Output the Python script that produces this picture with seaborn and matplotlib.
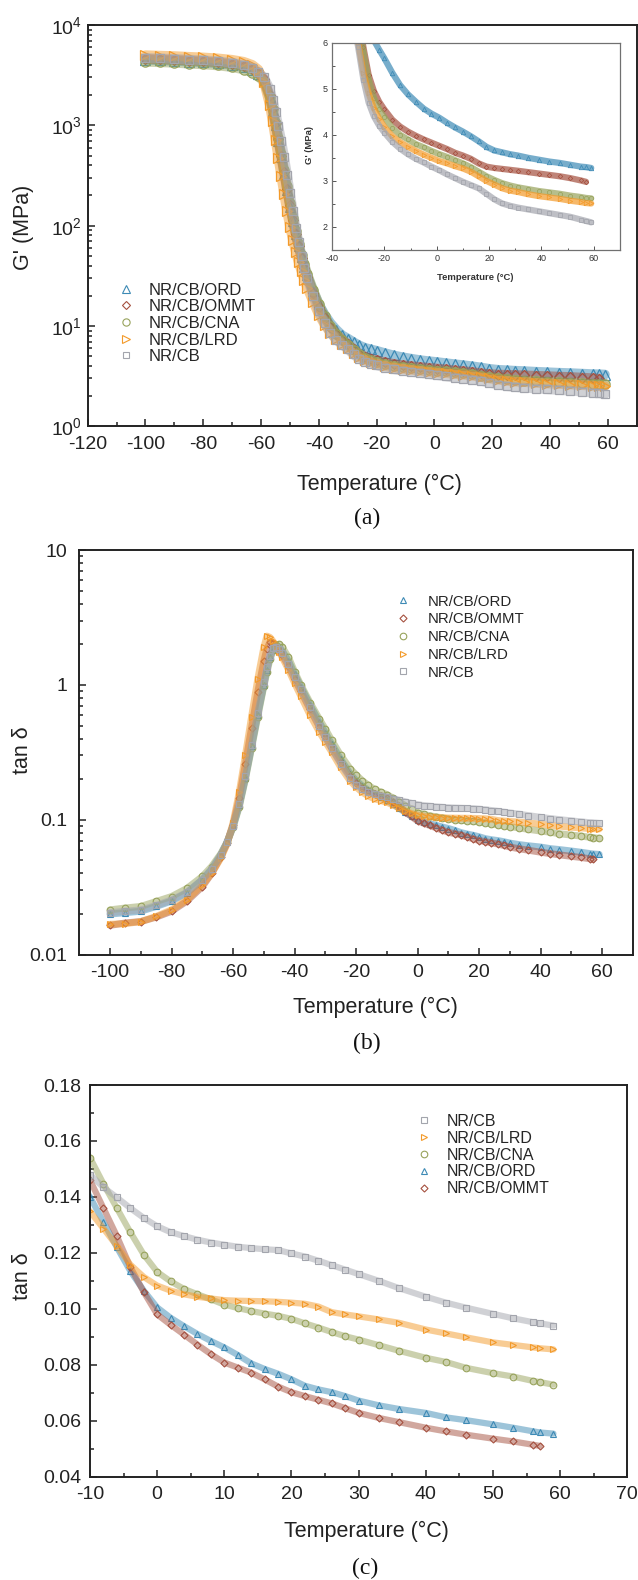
import numpy as np
import pandas as pd
import matplotlib
matplotlib.use("Agg")
import matplotlib.pyplot as plt
import seaborn as sns
from matplotlib.lines import Line2D
from matplotlib.ticker import FixedLocator, FuncFormatter, LogLocator, NullFormatter

# ---------------- storage modulus G' (MPa) vs temperature (°C) ----------------
temp_g = [-100, -95, -90, -85, -80, -75, -70, -66, -63, -61, -59, -57, -56, -55, -54,
          -53, -52, -51, -50, -49, -48, -47, -46, -45, -44, -42, -40, -38, -36, -34,
          -32, -30, -28, -26, -24, -22, -20, -17, -14, -11, -8, -5, -2, 1, 4, 7, 10,
          13, 16, 19, 22, 25, 28, 31, 35, 39, 43, 47, 51, 55, 57, 59]

g_ord = [4500, 4450, 4400, 4320, 4250, 4150, 4000, 3800, 3550, 3250, 2850, 1900, 1400,
         1000, 700, 480, 330, 225, 155, 112, 82, 62, 49, 39, 32, 22.5, 16.5, 13.0, 10.7,
         9.2, 8.1, 7.5, 6.9, 6.4, 6.05, 5.85, 5.66, 5.35, 5.08, 4.88, 4.72, 4.57, 4.46,
         4.37, 4.26, 4.16, 4.07, 3.97, 3.86, 3.74, 3.66, 3.62, 3.58, 3.55, 3.50, 3.46,
         3.42, 3.39, 3.35, 3.31, 3.30, 3.28]
g_ommt = [4600, 4550, 4500, 4420, 4350, 4250, 4100, 3900, 3650, 3350, 2900, 2000, 1500,
          1050, 730, 500, 340, 230, 160, 115, 82, 62, 48, 38, 31, 21.5, 15.5, 12.0, 9.8,
          8.3, 7.3, 6.6, 5.9, 5.3, 4.95, 4.72, 4.55, 4.33, 4.18, 4.07, 3.98, 3.90, 3.83,
          3.76, 3.69, 3.61, 3.55, 3.48, 3.38, 3.31, 3.28, 3.26, 3.24, 3.22, 3.19, 3.16,
          3.13, 3.10, 3.06, 3.01, 2.98, np.nan]
g_cna = [4300, 4250, 4200, 4120, 4050, 3950, 3800, 3600, 3350, 3100, 2700, 1900, 1450,
         1050, 740, 520, 360, 250, 170, 120, 88, 66, 51, 41, 33, 23, 16.5, 12.5, 10.0,
         8.4, 7.3, 6.5, 5.8, 5.2, 4.8, 4.55, 4.38, 4.15, 4.00, 3.90, 3.80, 3.73, 3.65,
         3.58, 3.52, 3.45, 3.38, 3.30, 3.20, 3.10, 3.02, 2.95, 2.90, 2.86, 2.82, 2.78,
         2.75, 2.72, 2.68, 2.65, 2.63, 2.62]
g_lrd = [5000, 4950, 4900, 4820, 4750, 4650, 4500, 4300, 4000, 3600, 2700, 1600, 1100,
         720, 470, 310, 205, 140, 98, 72, 55, 43, 35, 28.5, 24, 17.5, 13.0, 10.3, 8.6,
         7.4, 6.6, 6.0, 5.35, 4.9, 4.58, 4.35, 4.17, 3.97, 3.84, 3.74, 3.65, 3.57, 3.50,
         3.43, 3.38, 3.32, 3.27, 3.20, 3.10, 3.00, 2.92, 2.84, 2.79, 2.76, 2.71, 2.67,
         2.64, 2.61, 2.57, 2.54, 2.52, 2.51]
g_cb = [4700, 4650, 4600, 4520, 4450, 4350, 4200, 4000, 3750, 3400, 3000, 2300, 1800,
        1350, 980, 700, 480, 320, 210, 140, 95, 68, 50, 38, 30, 20, 14.0, 10.6, 8.6,
        7.3, 6.5, 5.9, 5.2, 4.7, 4.4, 4.2, 4.05, 3.85, 3.70, 3.58, 3.48, 3.40, 3.31,
        3.23, 3.14, 3.06, 2.98, 2.91, 2.84, 2.72, 2.60, 2.51, 2.46, 2.42, 2.38, 2.34,
        2.30, 2.26, 2.22, 2.16, 2.13, 2.10]

# ---------------- loss factor tan delta vs temperature (°C) ----------------
temp_t = [-100, -95, -90, -85, -80, -75, -70, -67, -64, -62, -60, -58, -56, -54, -52,
          -50, -49, -48, -47, -46, -45, -44, -42, -40, -38, -35, -32, -30, -28, -25,
          -22, -20, -18, -16, -14, -12, -10, -8, -6, -4, -2, 0, 2, 4, 6, 8, 10, 12, 14,
          16, 18, 20, 22, 24, 26, 28, 30, 33, 36, 40, 43, 46, 50, 53, 56, 57, 59]

t_cb = [0.0205, 0.021, 0.0215, 0.0232, 0.0255, 0.029, 0.036, 0.043, 0.055, 0.068, 0.09,
        0.13, 0.21, 0.36, 0.62, 1.05, 1.35, 1.65, 1.88, 1.92, 1.85, 1.72, 1.42, 1.15,
        0.93, 0.68, 0.50, 0.41, 0.34, 0.26, 0.205, 0.182, 0.168, 0.160, 0.155, 0.151,
        0.148, 0.1434, 0.1398, 0.136, 0.1325, 0.1295, 0.1274, 0.126, 0.1247, 0.1237,
        0.1229, 0.1222, 0.1217, 0.1213, 0.121, 0.1198, 0.1187, 0.1172, 0.1156, 0.114,
        0.1124, 0.110, 0.1074, 0.1043, 0.1022, 0.1004, 0.0982, 0.0966, 0.0952, 0.0948,
        0.094]
t_lrd = [0.0168, 0.017, 0.0176, 0.0192, 0.0215, 0.0255, 0.033, 0.040, 0.052, 0.066,
         0.095, 0.16, 0.30, 0.58, 1.10, 1.90, 2.30, 2.25, 2.10, 1.92, 1.75, 1.60, 1.30,
         1.03, 0.83, 0.60, 0.45, 0.38, 0.32, 0.245, 0.195, 0.175, 0.160, 0.150, 0.143,
         0.139, 0.1348, 0.1287, 0.1225, 0.1158, 0.1114, 0.1083, 0.1065, 0.1052, 0.1043,
         0.1037, 0.1031, 0.1029, 0.1028, 0.1027, 0.1025, 0.1022, 0.1018, 0.1008, 0.0988,
         0.098, 0.0973, 0.0962, 0.095, 0.0926, 0.0912, 0.0898, 0.088, 0.0871, 0.0862,
         0.0859, 0.0855]
t_cna = [0.0215, 0.0222, 0.0228, 0.0248, 0.027, 0.031, 0.038, 0.045, 0.056, 0.068,
         0.088, 0.125, 0.20, 0.34, 0.58, 0.98, 1.25, 1.55, 1.80, 1.98, 2.00, 1.90, 1.60,
         1.25, 1.00, 0.74, 0.56, 0.47, 0.39, 0.30, 0.24, 0.215, 0.195, 0.180, 0.168,
         0.160, 0.154, 0.1447, 0.136, 0.1274, 0.1194, 0.1132, 0.1098, 0.1071, 0.1052,
         0.1034, 0.1015, 0.1003, 0.0992, 0.0983, 0.0975, 0.0964, 0.0948, 0.0933,
         0.0917, 0.0902, 0.089, 0.087, 0.085, 0.0825, 0.081, 0.0789, 0.077, 0.0758,
         0.0742, 0.0738, 0.0729]
t_ord = [0.020, 0.0205, 0.021, 0.0228, 0.025, 0.0288, 0.036, 0.043, 0.055, 0.068, 0.09,
         0.128, 0.205, 0.35, 0.60, 1.00, 1.30, 1.60, 1.82, 1.93, 1.90, 1.78, 1.50, 1.20,
         0.97, 0.71, 0.53, 0.44, 0.365, 0.28, 0.22, 0.195, 0.178, 0.165, 0.155, 0.147,
         0.140, 0.131, 0.122, 0.1135, 0.1065, 0.1005, 0.0968, 0.0938, 0.091, 0.0885,
         0.0862, 0.0835, 0.0805, 0.0785, 0.0768, 0.0748, 0.0725, 0.0712, 0.0702,
         0.0688, 0.0672, 0.0655, 0.0642, 0.0628, 0.0612, 0.0602, 0.0587, 0.0575,
         0.0562, 0.0558, 0.0554]
t_ommt = [0.0165, 0.0172, 0.0176, 0.019, 0.021, 0.025, 0.032, 0.040, 0.053, 0.067,
          0.092, 0.145, 0.26, 0.48, 0.88, 1.50, 1.85, 2.08, 2.05, 1.92, 1.80, 1.66,
          1.38, 1.10, 0.90, 0.66, 0.49, 0.41, 0.34, 0.265, 0.21, 0.188, 0.172, 0.162,
          0.156, 0.151, 0.146, 0.136, 0.126, 0.115, 0.106, 0.098, 0.0943, 0.0908,
          0.0872, 0.0838, 0.0808, 0.079, 0.0772, 0.0748, 0.0722, 0.0702, 0.0688,
          0.0675, 0.0662, 0.0645, 0.0628, 0.061, 0.0595, 0.0575, 0.0562, 0.055, 0.0536,
          0.0526, 0.0514, 0.051, np.nan]

labels = ["NR/CB/ORD", "NR/CB/OMMT", "NR/CB/CNA", "NR/CB/LRD", "NR/CB"]
g_values = [g_ord, g_ommt, g_cna, g_lrd, g_cb]
t_values = [t_ord, t_ommt, t_cna, t_lrd, t_cb]

# ---------------- styling ----------------
colors = {"NR/CB/ORD": "#3d8ab5", "NR/CB/OMMT": "#a5503f", "NR/CB/CNA": "#98a35c",
          "NR/CB/LRD": "#f39a2a", "NR/CB": "#a3a5ad"}
markers = {"NR/CB/ORD": "^", "NR/CB/OMMT": "D", "NR/CB/CNA": "o",
           "NR/CB/LRD": ">", "NR/CB": "s"}
marker_scale = {"NR/CB/ORD": 1.0, "NR/CB/OMMT": 0.72, "NR/CB/CNA": 0.95,
                "NR/CB/LRD": 1.0, "NR/CB": 0.85}

sns.set_style("ticks")
plt.rcParams["font.family"] = ["Liberation Sans", "DejaVu Sans"]
plt.rcParams["mathtext.fontset"] = "custom"
plt.rcParams["mathtext.rm"] = "Liberation Sans"
plt.rcParams["mathtext.default"] = "regular"
plt.rcParams["axes.edgecolor"] = "#222222"
plt.rcParams["axes.unicode_minus"] = False

W, H = 638, 1580
fig = plt.figure(figsize=(W / 100, H / 100), dpi=100)


def add_axes_px(left, top, right, bottom):
    return fig.add_axes([left / W, 1 - bottom / H, (right - left) / W, (bottom - top) / H])


def style_axes(ax, lw=1.4, tick_size=14, pad=7):
    for s in ax.spines.values():
        s.set_linewidth(lw)
    ax.tick_params(which="both", direction="in", top=False, right=False,
                   width=1.1, colors="#222222", labelsize=tick_size, pad=pad)
    ax.tick_params(which="major", length=5)
    ax.tick_params(which="minor", length=3)
    ax.set_xlabel("")
    ax.set_ylabel("")


def draw(ax, temps, vals, name, ms, lw, mew, band_alpha=0.5):
    df = pd.DataFrame({"T": temps, "v": vals}).dropna()
    c = colors[name]
    sns.lineplot(data=df, x="T", y="v", ax=ax, color=c, lw=lw, alpha=band_alpha,
                 estimator=None, sort=False, legend=False)
    sns.lineplot(data=df, x="T", y="v", ax=ax, color=c, linestyle="", marker=markers[name],
                 markersize=ms * marker_scale[name], markerfacecolor="none",
                 markeredgecolor=c, markeredgewidth=mew, estimator=None, sort=False,
                 legend=False)


def legend_handles(names, ms=5.5):
    return [Line2D([], [], linestyle="", marker=markers[n], markersize=ms * marker_scale[n],
                   markerfacecolor="none", markeredgecolor=colors[n], markeredgewidth=0.8)
            for n in names]


def decade_fmt(v, _):
    return "$10^{%d}$" % int(round(np.log10(v)))


def plain_fmt(v, _):
    return ("%g" % v)

# ---------------- (a) G' ----------------
ax_a = add_axes_px(87.7, 25, 636.7, 426.3)
ax_a.set_yscale("log")
for name, vals in zip(labels, g_values):
    draw(ax_a, temp_g, vals, name, ms=7, lw=7, mew=0.9)
ax_a.set_xlim(-120, 70)
ax_a.set_ylim(1, 1e4)
ax_a.xaxis.set_major_locator(FixedLocator(np.arange(-120, 61, 20)))
ax_a.xaxis.set_minor_locator(FixedLocator(np.arange(-110, 61, 20)))
ax_a.yaxis.set_major_locator(LogLocator(base=10, numticks=10))
ax_a.yaxis.set_minor_locator(LogLocator(base=10, subs=np.arange(2, 10), numticks=10))
ax_a.yaxis.set_major_formatter(FuncFormatter(decade_fmt))
ax_a.yaxis.set_minor_formatter(NullFormatter())
style_axes(ax_a)
ax_a.tick_params(axis="y", pad=4)
ax_a.legend(legend_handles(labels), labels, loc="upper left",
            bbox_to_anchor=(0.0546, 0.358), frameon=False, fontsize=12,
            handlelength=1.0, handletextpad=0.88, labelspacing=0.1,
            borderpad=0, borderaxespad=0)

# inset: zoom on the rubbery plateau
ax_in = add_axes_px(332, 42.7, 620, 250)
ax_in.set_facecolor("white")
for name, vals in zip(labels, g_values):
    draw(ax_in, temp_g, vals, name, ms=3.2, lw=4.5, mew=0.55, band_alpha=0.7)
ax_in.set_xlim(-40, 70)
ax_in.set_ylim(1.5, 6)
ax_in.xaxis.set_major_locator(FixedLocator(np.arange(-40, 61, 20)))
ax_in.xaxis.set_minor_locator(FixedLocator(np.arange(-30, 61, 20)))
ax_in.yaxis.set_major_locator(FixedLocator([2, 3, 4, 5, 6]))
ax_in.yaxis.set_minor_locator(FixedLocator([2.5, 3.5, 4.5, 5.5]))
ax_in.yaxis.set_major_formatter(FuncFormatter(plain_fmt))
for s in ax_in.spines.values():
    s.set_linewidth(0.9)
    s.set_color("#707070")
ax_in.tick_params(which="both", direction="in", top=False, right=False, width=0.7,
                  colors="#555555", labelsize=6.5, pad=3)
ax_in.tick_params(which="major", length=3)
ax_in.tick_params(which="minor", length=1.8)
for lab in ax_in.get_xticklabels() + ax_in.get_yticklabels():
    lab.set_family(["Liberation Sans Narrow", "Liberation Sans"])
    lab.set_color("#333333")
ax_in.set_xlabel("")
ax_in.set_ylabel("")
fig.text(310 / W, 1 - 145 / H, "G' (MPa)", rotation=90, ha="center", va="center",
         fontsize=6.8, fontweight="bold", color="#333333",
         family=["Liberation Sans Narrow", "Liberation Sans"])
fig.text(475 / W, 1 - 278 / H, "Temperature (\u00b0C)", ha="center", va="center",
         fontsize=6.8, fontweight="bold", color="#333333",
         family=["Liberation Sans Narrow", "Liberation Sans"])

fig.text(24 / W, 1 - 227 / H, "G' (MPa)", rotation=90, ha="center", va="center",
         fontsize=15.5, color="#222222")
fig.text(379 / W, 1 - 484 / H, "Temperature (\u00b0C)", ha="center", va="center",
         fontsize=15.5, color="#222222")
fig.text(367 / W, 1 - 518 / H, "(a)", ha="center", va="center", fontsize=17,
         family=["Liberation Serif", "DejaVu Serif"], color="#111111")

# ---------------- (b) tan delta, full range ----------------
ax_b = add_axes_px(79.3, 550, 633, 954.7)
ax_b.set_yscale("log")
for name, vals in zip(labels, t_values):
    draw(ax_b, temp_t, vals, name, ms=5, lw=5, mew=0.8)
ax_b.set_xlim(-110, 70)
ax_b.set_ylim(0.01, 10)
ax_b.xaxis.set_major_locator(FixedLocator(np.arange(-100, 61, 20)))
ax_b.xaxis.set_minor_locator(FixedLocator(np.arange(-90, 61, 20)))
ax_b.yaxis.set_major_locator(FixedLocator([0.01, 0.1, 1, 10]))
ax_b.yaxis.set_minor_locator(LogLocator(base=10, subs=np.arange(2, 10), numticks=10))
ax_b.yaxis.set_major_formatter(FuncFormatter(plain_fmt))
ax_b.yaxis.set_minor_formatter(NullFormatter())
style_axes(ax_b)
ax_b.tick_params(axis="y", pad=8.5)
ax_b.legend(legend_handles(labels, ms=5), labels, loc="upper left",
            bbox_to_anchor=(0.5706, 0.890), frameon=False, fontsize=10.8,
            handlelength=1.0, handletextpad=1.14, labelspacing=0.25,
            borderpad=0, borderaxespad=0)
fig.text(22 / W, 1 - 750 / H, "tan \u03b4", rotation=90, ha="center", va="center",
         fontsize=15.5, color="#222222")
fig.text(375 / W, 1 - 1007 / H, "Temperature (\u00b0C)", ha="center", va="center",
         fontsize=15.5, color="#222222")
fig.text(367 / W, 1 - 1043 / H, "(b)", ha="center", va="center", fontsize=17,
         family=["Liberation Serif", "DejaVu Serif"], color="#111111")

# ---------------- (c) tan delta, rubbery region ----------------
ax_c = add_axes_px(90, 1085, 627.3, 1476.7)
for name, vals in zip(labels, t_values):
    draw(ax_c, temp_t, vals, name, ms=5, lw=4.5, mew=0.8)
ax_c.set_xlim(-10, 70)
ax_c.set_ylim(0.04, 0.18)
ax_c.xaxis.set_major_locator(FixedLocator(np.arange(-10, 71, 10)))
ax_c.xaxis.set_minor_locator(FixedLocator(np.arange(-5, 66, 10)))
ax_c.yaxis.set_major_locator(FixedLocator(np.round(np.arange(0.04, 0.181, 0.02), 2)))
ax_c.yaxis.set_minor_locator(FixedLocator(np.round(np.arange(0.05, 0.18, 0.02), 2)))
ax_c.yaxis.set_major_formatter(FuncFormatter(lambda v, _: "%.2f" % v))
style_axes(ax_c)
ax_c.tick_params(axis="y", pad=6)
legend_c = ["NR/CB", "NR/CB/LRD", "NR/CB/CNA", "NR/CB/ORD", "NR/CB/OMMT"]
ax_c.legend(legend_handles(legend_c, ms=5), legend_c, loc="upper left",
            bbox_to_anchor=(0.6067, 0.926), frameon=False, fontsize=11.5,
            handlelength=1.0, handletextpad=0.94, labelspacing=0.115,
            borderpad=0, borderaxespad=0)
fig.text(22 / W, 1 - 1276 / H, "tan \u03b4", rotation=90, ha="center", va="center",
         fontsize=15.5, color="#222222")
fig.text(366 / W, 1 - 1531 / H, "Temperature (\u00b0C)", ha="center", va="center",
         fontsize=15.5, color="#222222")
fig.text(365 / W, 1 - 1568 / H, "(c)", ha="center", va="center", fontsize=17,
         family=["Liberation Serif", "DejaVu Serif"], color="#111111")

fig.savefig("out.png", dpi=100, facecolor="white")
